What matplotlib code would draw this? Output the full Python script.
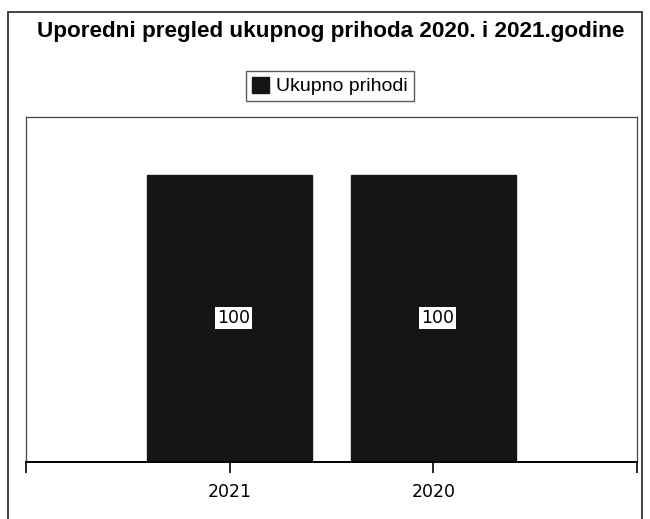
import matplotlib
matplotlib.use("Agg")
import matplotlib.pyplot as plt
from matplotlib.patches import Rectangle, Patch

# ========================
# DATA
# ========================
godine = ["2021", "2020"]
prihodi = [100, 100]
legenda = "Ukupno prihodi"
naslov = "Uporedni pregled ukupnog prihoda 2020. i 2021.godine"

BAR_COLOR = "#151515"

# ========================
# FIGURE
# ========================
fig = plt.figure(figsize=(6.5, 5.19), dpi=100)
fig.patch.set_facecolor("white")

# outer chart border
fig.patches.append(Rectangle((8 / 650, -0.05), (642 - 8) / 650, 1.05 - 12 / 519,
                             transform=fig.transFigure, fill=False,
                             edgecolor="#222222", linewidth=1.2))

ax = fig.add_axes([26 / 650, 1 - 462 / 519, (637 - 26) / 650, (462 - 117) / 519])

x = list(range(len(godine)))
bars = ax.bar(x, prihodi, width=0.81, color=BAR_COLOR, edgecolor=BAR_COLOR)

for xi, v in zip(x, prihodi):
    ax.text(xi + 0.02, v / 2, f"{v}", ha="center", va="center", fontsize=12.5,
            family="DejaVu Sans", color="black",
            bbox=dict(boxstyle="square,pad=0.12", fc="white", ec="none"))

ax.set_xlim(-1, 2)
ax.set_ylim(0, 120)
ax.set_yticks([])
ax.set_xticks([-1, 0, 1, 2])
ax.set_xticklabels(["", godine[0], godine[1], ""], fontsize=12.5, family="DejaVu Sans")
ax.tick_params(axis="x", length=8, width=1.2, pad=7, color="black")

for s in ["left", "top", "right"]:
    ax.spines[s].set_color("#444444")
    ax.spines[s].set_linewidth(0.9)
ax.spines["bottom"].set_color("black")
ax.spines["bottom"].set_linewidth(1.4)

fig.text(331 / 650, 1 - 32 / 519, naslov, ha="center", va="center",
         fontsize=16.2, fontweight="bold", family="Liberation Sans")

fig.legend(handles=[Patch(facecolor=BAR_COLOR, edgecolor=BAR_COLOR, label=legenda)],
           loc="center", bbox_to_anchor=(330 / 650, 1 - 86 / 519),
           frameon=True, fancybox=False, edgecolor="#333333",
           prop={"family": "Liberation Sans", "size": 14},
           handlelength=0.9, handleheight=0.9, handletextpad=0.35,
           borderpad=0.3, borderaxespad=0)

fig.savefig("out.png", dpi=100)
